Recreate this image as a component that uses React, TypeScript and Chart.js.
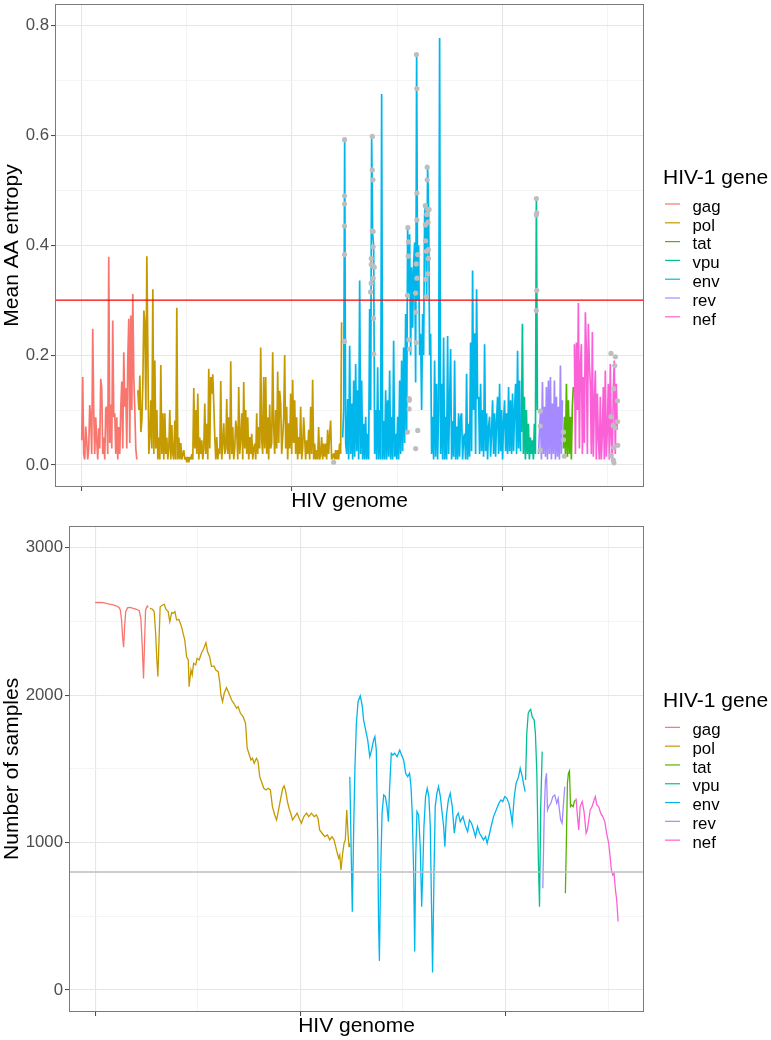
import React, { useEffect, useRef } from "react";
import { Chart, registerables } from "chart.js";

Chart.register(...registerables);

const FONT = "'Liberation Sans', Arial, Helvetica, sans-serif";

// ---------------- data ----------------
const genes = ["gag", "pol", "tat", "vpu", "env", "rev", "nef"];
const geneColors = ["#F8766D", "#C49A00", "#53B400", "#00C094", "#00B6EB", "#A58AFF", "#FB61D7"];
// first / last genome position (AA index along the concatenated genome) of each gene
const geneStart = [0, 267, 2291, 2091, 1241, 2172, 2343];
const geneEnd = [262, 1236, 2338, 2167, 2087, 2286, 2547];

// mean AA entropy per position
const gagEntropy = [.045, .16, .02, .01, .07, .045, .01, .03, .109, .087, .02, .248, .1, .02, .087, .045, .01, .067, .03, .157, .14, .02, .05, .01, .103, .106, .02, .379, .04, .11, .03, .263, .087, .094, .02, .087, .01, .069, .02, .103, .152, .03, .205, .106, .14, .03, .19, .266, .04, .272, .1, .311, .16, .1, .03, .01];
const polEntropy = [.136, .1, .163, .06, .08, .15, .281, .257, .1, .38,
  .208, .02, .05, .118, .03, .32, .02, .19, .03, .1,
  .01, .05, .01, .182, .02, .094, .01, .094, .02, .05,
  .01, .03, .1, .01, .073, .02, .01, .081, .01, .286,
  .01, .05, .01, .04, .01, .02, .027, .01, .015, .005,
  .015, .005, .015, .01, .02, .01, .14, .03, .1, .02,
  .13, .01, .05, .02, .045, .01, .03, .112, .02, .075,
  .01, .175, .03, .16, .13, .165, .112, .051, .01, .051,
  .01, .03, .02, .153, .01, .04, .076, .02, .03, .12,
  .02, .087, .01, .189, .02, .069, .01, .03, .081, .064,
  .01, .142, .02, .05, .094, .01, .151, .03, .1, .02,
  .087, .01, .051, .02, .057, .01, .03, .039, .01, .094,
  .02, .069, .03, .214, .045, .02, .16, .03, .16, .02,
  .087, .01, .11, .03, .04, .205, .069, .02, .1, .03,
  .17, .04, .135, .112, .02, .05, .087, .2, .03, .106,
  .01, .076, .03, .13, .02, .155, .04, .118, .02, .087,
  .01, .051, .02, .106, .01, .03, .087, .051, .01, .045,
  .02, .064, .01, .106, .02, .155, .01, .039, .01, .027,
  .01, .069, .01, .02, .051, .01, .039, .015, .039, .01,
  .064, .02, .057, .081, .01, .015, .021, .01, .027, .01,
  .027, .01, .039, .02, .26];
const envEntropy = [.05, .1, .592, .04, .02, .12, .01, .217, .02, .112, .01, .154, .015, .184, .025, .136, .01, .336, .02, .154,
  .01, .075, .01, .088, .01, .057, .01, .284, .1, .598, .42, .4, .02, .1, .01, .178, .01, .1, .01, .675,
  .01, .08, .01, .136, .01, .118, .015, .172, .01, .088, .01, .226, .015, .057, .01, .088, .01, .154, .02, .19,
  .025, .214, .04, .275, .06, .432, .31, .42, .2, .36, .25, .365, .405, .15, .747, .3, .4, .2, .239, .1,
  .275, .2, .456, .474, .3, .542, .465, .2, .239, .02, .088, .01, .19, .015, .148, .01, .1, .777, .02, .148,
  .01, .232, .01, .088, .01, .235, .02, .112, .211, .01, .08, .015, .19, .01, .07, .01, .094, .015, .088, .094,
  .01, .05, .057, .01, .166, .01, .075, .015, .223, .025, .354, .1, .24, .02, .32, .12, .124, .02, .148, .025,
  .1, .015, .22, .025, .094, .01, .07, .088, .015, .06, .118, .02, .094, .015, .08, .124, .02, .148, .025, .1,
  .01, .08, .118, .025, .094, .02, .142, .025, .118, .02, .13, .025, .1, .148, .02, .208, .03, .154, .025];
const vpuEntropy = [.06, .257, .02, .124, .01, .1, .02, .075, .01, .05, .02, .045, .01, .075, .02, .485, .1];
const revEntropy = [.02, .06, .098, .01, .151, .02, .106, .015, .142, .01, .154, .02, .16, .01, .112, .02, .154, .01, .124, .015, .106, .01, .181, .02, .118];
const tatEntropy = [.03, .088, .02, .148, .015, .118, .02, .088, .01, .106, .142];
const nefEntropy = [.22, .02, .223, .1, .295, .03, .18, .22, .02, .16, .04, .278, .208, .02, .257, .184, .148, .02, .242, .015, .112, .172, .01, .13, .05, .01, .124, .01, .057, .142, .01, .172, .015, .064, .148, .01, .184, .05, .01, .136, .19, .02, .148, .064];
const entropyByGene = [gagEntropy, polEntropy, tatEntropy, vpuEntropy, envEntropy, revEntropy, nefEntropy];

// positions with low sample coverage: [genome position, mean AA entropy]
const lowCoverageSites = [
  [1198, .005],
  [1250, .592], [1250, .49], [1250, .475], [1250, .435], [1250, .383], [1250, .225],
  [1382, .598], [1382, .537], [1385, .519], [1382, .426], [1386, .425], [1386, .397], [1377, .376], [1377, .365], [1386, .362], [1391, .36], [1386, .34], [1377, .331], [1374, .315], [1388, .267], [1389, .202],
  [1551, .432], [1554, .406], [1553, .38], [1549, .309], [1556, .228], [1560, .211], [1557, .121], [1558, .118], [1557, .102], [1549, .06],
  [1592, .747], [1594, .685], [1594, .495], [1594, .446], [1598, .383], [1591, .366], [1594, .34], [1588, .313], [1589, .278], [1591, .223], [1598, .063], [1588, .03],
  [1643, .542], [1643, .519], [1634, .472], [1646, .465], [1652, .465], [1641, .456], [1647, .442], [1635, .437], [1635, .408], [1649, .392], [1639, .389], [1649, .376], [1646, .348], [1635, .338], [1639, .306],
  [2162, .485], [2164, .459], [2162, .455], [2164, .318], [2162, .281],
  [2181, .098], [2181, .071], [2181, .027],
  [2291, .06], [2291, .046], [2295, .016],
  [2517, .203], [2538, .197], [2535, .181], [2530, .139], [2548, .117], [2517, .088], [2548, .079], [2527, .072], [2536, .068], [2530, .032], [2549, .036], [2517, .018], [2528, .009], [2531, .004]
];

// number of samples: [genome position, count]
const gagSamples = [[0, 2628], [16, 2630], [40, 2628], [64, 2619], [89, 2612], [105, 2605], [116, 2596], [123, 2578], [129, 2510], [134, 2397], [139, 2325], [144, 2465], [149, 2567], [159, 2594], [170, 2596], [186, 2589], [202, 2583], [215, 2574], [223, 2521], [230, 2329], [236, 2114], [241, 2352], [246, 2578], [254, 2605], [259, 2596]];
const polSamples = [[267, 2589], [280, 2583], [288, 2567], [295, 2420], [301, 2239], [306, 2126], [311, 2352], [317, 2600], [329, 2612], [337, 2616], [345, 2583], [356, 2567], [364, 2499], [373, 2560], [381, 2556], [389, 2567], [397, 2510], [408, 2515], [421, 2465], [431, 2408], [437, 2374], [446, 2261], [454, 2239], [458, 2058], [467, 2171], [473, 2137], [480, 2216], [490, 2205], [497, 2250], [507, 2239], [519, 2288], [530, 2318], [540, 2356], [548, 2295], [558, 2261], [567, 2194], [579, 2198], [588, 2171], [600, 2160], [608, 2080], [613, 2001], [621, 1956], [629, 2013], [640, 2051], [652, 2013], [665, 1967], [676, 1945], [689, 1911], [697, 1922], [708, 1877], [721, 1854], [733, 1809], [741, 1640], [749, 1606], [759, 1560], [767, 1572], [775, 1538], [786, 1572], [794, 1549], [802, 1447], [811, 1413], [822, 1368], [832, 1357], [843, 1368], [854, 1357], [864, 1244], [875, 1187], [884, 1153], [891, 1199], [903, 1289], [914, 1368], [921, 1384], [929, 1346], [937, 1278], [945, 1232], [953, 1199], [962, 1153], [973, 1176], [984, 1199], [994, 1164], [1005, 1131], [1017, 1176], [1030, 1199], [1041, 1176], [1054, 1199], [1067, 1176], [1078, 1187], [1086, 1164], [1094, 1085], [1106, 1063], [1119, 1040], [1132, 1051], [1143, 1018], [1154, 1040], [1164, 1018], [1172, 972], [1180, 927], [1187, 893], [1192, 915], [1198, 814], [1206, 927], [1213, 995], [1219, 1018], [1226, 1221], [1232, 1063], [1237, 972], [1240, 995]];
const envSamples = [[1241, 1447], [1253, 531], [1260, 1108], [1266, 1515], [1273, 1809], [1281, 1956], [1292, 1995], [1302, 1922], [1308, 1832], [1318, 1764], [1328, 1696], [1338, 1583], [1347, 1628], [1357, 1696], [1363, 1719], [1370, 1628], [1377, 1018], [1381, 452], [1385, 197], [1391, 791], [1398, 1199], [1406, 1323], [1414, 1312], [1422, 1244], [1429, 1142], [1435, 1379], [1443, 1606], [1451, 1594], [1459, 1606], [1471, 1583], [1484, 1628], [1493, 1594], [1503, 1560], [1513, 1470], [1523, 1447], [1532, 1470], [1539, 1379], [1545, 1199], [1552, 791], [1557, 260], [1562, 905], [1568, 1210], [1576, 1187], [1584, 972], [1591, 565], [1596, 791], [1602, 1108], [1610, 1312], [1618, 1368], [1626, 1312], [1633, 1108], [1639, 565], [1644, 118], [1651, 791], [1657, 1244], [1665, 1334], [1673, 1379], [1682, 1312], [1689, 1221], [1698, 1108], [1704, 972], [1711, 1176], [1721, 1289], [1730, 1334], [1740, 1244], [1750, 1063], [1760, 1176], [1769, 1199], [1779, 1142], [1792, 1176], [1805, 1108], [1815, 1074], [1824, 1153], [1834, 1131], [1844, 1085], [1853, 1040], [1863, 1108], [1873, 1063], [1883, 1040], [1892, 1018], [1902, 1040], [1910, 995], [1922, 1063], [1931, 1119], [1941, 1176], [1954, 1221], [1967, 1266], [1977, 1289], [1986, 1278], [1996, 1312], [2006, 1300], [2016, 1266], [2025, 1199], [2032, 1131], [2042, 1312], [2051, 1402], [2063, 1447], [2071, 1504], [2081, 1447], [2087, 1402], [2095, 1346]];
const vpuSamples = [[2097, 1425], [2103, 1741], [2110, 1877], [2116, 1895], [2122, 1904], [2129, 1854], [2139, 1832], [2145, 1741], [2152, 1470], [2159, 905], [2165, 565], [2171, 1244], [2178, 1617]];
const revSamples = [[2181, 690], [2188, 1199], [2194, 1425], [2199, 1470], [2204, 1221], [2210, 1244], [2220, 1266], [2230, 1312], [2239, 1323], [2249, 1266], [2256, 1300], [2262, 1221], [2268, 1153], [2275, 1131], [2282, 1266], [2288, 1379]];
const tatSamples = [[2291, 656], [2296, 1018], [2301, 1402], [2306, 1470], [2311, 1486], [2316, 1244], [2322, 1255], [2329, 1244], [2335, 1278], [2340, 1289]];
const nefSamples = [[2343, 1300], [2350, 1176], [2356, 1085], [2363, 1244], [2373, 1278], [2382, 1210], [2392, 1063], [2398, 1085], [2405, 1153], [2412, 1221], [2421, 1244], [2431, 1289], [2437, 1312], [2444, 1255], [2453, 1244], [2463, 1199], [2473, 1176], [2483, 1142], [2492, 1063], [2502, 995], [2509, 905], [2515, 814], [2522, 780], [2528, 791], [2535, 678], [2541, 611], [2548, 464]];
const samplesByGene = [gagSamples, polSamples, tatSamples, vpuSamples, envSamples, revSamples, nefSamples];

const entropyCutoff = 0.3;
const sampleCutoff = 800;

// axes
const genomeRange = [-127, 2674];
const genomeMajorTicks = [0, 1000, 2000];
const genomeMinorTicks = [500, 1500, 2500];
const entropyRange = [-0.04, 0.839];
const entropyMajorTicks = [0, 0.2, 0.4, 0.6, 0.8];
const entropyMinorTicks = [0.1, 0.3, 0.5, 0.7];
const sampleRange = [-150, 3150];
const sampleMajorTicks = [0, 1000, 2000, 3000];
const sampleMinorTicks = [500, 1500, 2500];

// ---------------- helpers ----------------
function gridFor(major: number[]) {
  return {
    drawTicks: true,
    tickLength: 4,
    color: (c: any) => (major.includes(c.tick?.value) ? "#E6E6E6" : "#F1F1F1"),
    lineWidth: (c: any) => (major.includes(c.tick?.value) ? 1.1 : 0.8),
    tickColor: (c: any) => (major.includes(c.tick?.value) ? "#444444" : "rgba(0,0,0,0)"),
    tickWidth: 1,
  };
}

function setTicks(values: number[]) {
  return (s: any) => {
    s.ticks = [...values].sort((a, b) => a - b).map((v) => ({ value: v }));
  };
}

const framePlugin = {
  id: "panelFrame",
  afterDraw(chart: any) {
    const { ctx, chartArea: a } = chart;
    ctx.save();
    ctx.strokeStyle = "#7A7A7A";
    ctx.lineWidth = 1;
    const l = Math.round(a.left) + 0.5;
    const t = Math.round(a.top) + 0.5;
    const r = Math.round(a.right) - 0.5;
    const b = Math.round(a.bottom) - 0.5;
    ctx.strokeRect(l, t, r - l, b - t);
    ctx.restore();
  },
};

const legendPlugin = {
  id: "geneLegend",
  afterDraw(chart: any) {
    const { ctx, chartArea: a } = chart;
    const cy = (a.top + a.bottom) / 2;
    const firstKey = cy - 41.5;
    ctx.save();
    ctx.textAlign = "left";
    ctx.textBaseline = "alphabetic";
    ctx.fillStyle = "#000";
    ctx.font = `21px ${FONT}`;
    ctx.fillText("HIV-1 gene", 663, firstKey - 20.3);
    ctx.font = `16.8px ${FONT}`;
    genes.forEach((g, i) => {
      const y = firstKey + i * 18.8;
      ctx.strokeStyle = geneColors[i];
      ctx.lineWidth = 1.2;
      ctx.beginPath();
      ctx.moveTo(665, y);
      ctx.lineTo(680, y);
      ctx.stroke();
      ctx.fillStyle = "#000";
      ctx.fillText(g, 692.5, y + 7.7);
    });
    ctx.restore();
  },
};

function baseOptions(padTop: number, yWidth: number, xHeight: number, xTitlePad: number, yCfg: any) {
  return {
    responsive: false,
    maintainAspectRatio: false,
    animation: false,
    devicePixelRatio: 1,
    events: [],
    layout: { padding: { left: 0, right: 127, top: padTop, bottom: 0 } },
    plugins: { legend: { display: false }, tooltip: { enabled: false } },
    scales: {
      x: {
        type: "linear",
        min: genomeRange[0],
        max: genomeRange[1],
        afterBuildTicks: setTicks([...genomeMajorTicks, ...genomeMinorTicks]),
        afterFit: (s: any) => {
          s.height = xHeight;
          s.paddingLeft = 0;
          s.paddingRight = 0;
        },
        ticks: { display: false },
        grid: gridFor(genomeMajorTicks),
        border: { display: false },
        title: {
          display: true,
          text: "HIV genome",
          color: "#000",
          font: { size: 21, family: FONT },
          padding: { top: 0, bottom: xTitlePad },
        },
      },
      y: {
        type: "linear",
        ...yCfg,
        afterFit: (s: any) => {
          s.width = yWidth;
          s.paddingTop = 0;
          s.paddingBottom = 0;
        },
        border: { display: false },
      },
    },
  };
}

function topConfig(): any {
  const datasets: any[] = [];
  datasets.push({
    label: "low coverage",
    data: lowCoverageSites.map(([x, y]) => ({ x, y })),
    showLine: false,
    pointRadius: 2.6,
    pointBorderWidth: 0,
    pointBackgroundColor: "#BEBEBE",
    borderColor: "#BEBEBE",
    order: 0,
  });
  datasets.push({
    label: "cutoff",
    data: [
      { x: genomeRange[0], y: entropyCutoff },
      { x: genomeRange[1], y: entropyCutoff },
    ],
    borderColor: "#FF0000",
    borderWidth: 1.4,
    pointRadius: 0,
    order: 1,
  });
  genes.forEach((g, i) => {
    const vals = entropyByGene[i];
    const span = geneEnd[i] - geneStart[i];
    datasets.push({
      label: g,
      data: vals.map((v, k) => ({ x: geneStart[i] + (k * span) / (vals.length - 1), y: v })),
      borderColor: geneColors[i],
      borderWidth: 1.7,
      borderJoinStyle: "bevel",
      pointRadius: 0,
      tension: 0,
      order: 20 - i,
    });
  });
  return {
    type: "line",
    data: { datasets },
    options: baseOptions(2, 55, 27, 0, {
      min: entropyRange[0],
      max: entropyRange[1],
      afterBuildTicks: setTicks([...entropyMajorTicks, ...entropyMinorTicks]),
      ticks: {
        autoSkip: false,
        padding: 2,
        color: "#4D4D4D",
        font: { size: 16.8, family: FONT },
        callback: (v: number) => (entropyMajorTicks.includes(v) ? v.toFixed(1) : ""),
      },
      grid: gridFor(entropyMajorTicks),
      title: {
        display: true,
        text: "Mean AA entropy",
        color: "#000",
        font: { size: 21, family: FONT },
        padding: { top: 0, bottom: 0 },
      },
    }),
    plugins: [framePlugin, legendPlugin],
  };
}

function bottomConfig(): any {
  const datasets: any[] = [];
  datasets.push({
    label: "cutoff",
    data: [
      { x: genomeRange[0], y: sampleCutoff },
      { x: genomeRange[1], y: sampleCutoff },
    ],
    borderColor: "#BEBEBE",
    borderWidth: 1.4,
    pointRadius: 0,
    order: 1,
  });
  genes.forEach((g, i) => {
    datasets.push({
      label: g,
      data: samplesByGene[i].map(([x, y]) => ({ x, y })),
      borderColor: geneColors[i],
      borderWidth: 1.3,
      pointRadius: 0,
      tension: 0,
      order: 20 - i,
    });
  });
  return {
    type: "line",
    data: { datasets },
    options: baseOptions(11.7, 69, 28, 1.4, {
      min: sampleRange[0],
      max: sampleRange[1],
      afterBuildTicks: setTicks([...sampleMajorTicks, ...sampleMinorTicks]),
      ticks: {
        autoSkip: false,
        padding: 2,
        color: "#4D4D4D",
        font: { size: 16.8, family: FONT },
        callback: (v: number) => (sampleMajorTicks.includes(v) ? String(v) : ""),
      },
      grid: gridFor(sampleMajorTicks),
      title: {
        display: true,
        text: "Number of samples",
        color: "#000",
        font: { size: 21, family: FONT },
        padding: { top: 0, bottom: 0 },
      },
    }),
    plugins: [framePlugin, legendPlugin],
  };
}

export default function App() {
  const topRef = useRef<HTMLCanvasElement>(null);
  const botRef = useRef<HTMLCanvasElement>(null);

  useEffect(() => {
    Chart.defaults.font.family = FONT;
    const c1 = new Chart(topRef.current as HTMLCanvasElement, topConfig());
    const c2 = new Chart(botRef.current as HTMLCanvasElement, bottomConfig());
    return () => {
      c1.destroy();
      c2.destroy();
    };
  }, []);

  return (
    <div style={{ position: "absolute", left: 0, top: 0, width: 771, height: 1040, background: "#fff" }}>
      <canvas ref={topRef} width={771} height={514} style={{ display: "block", width: 771, height: 514 }} />
      <canvas ref={botRef} width={771} height={526} style={{ display: "block", width: 771, height: 526 }} />
    </div>
  );
}
